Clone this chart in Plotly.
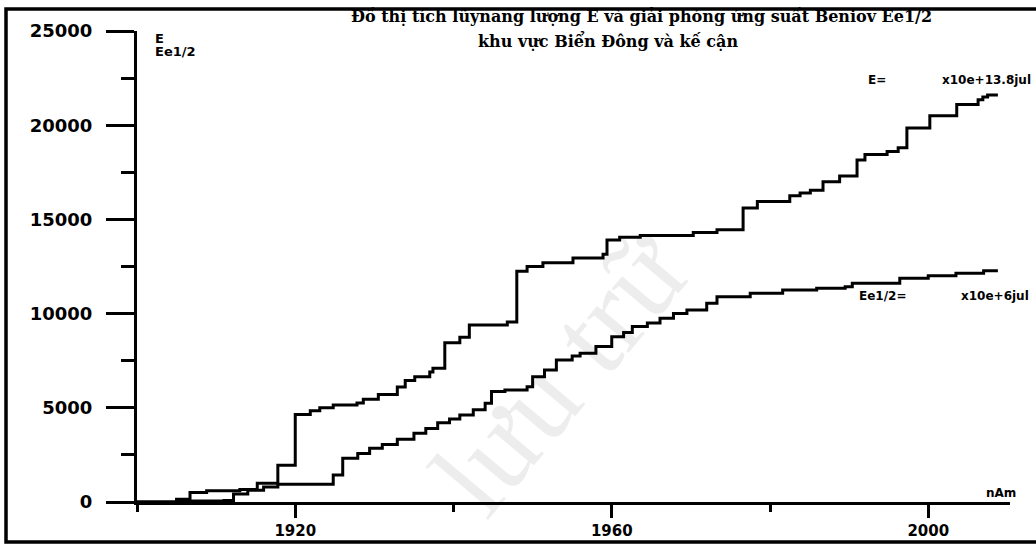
import plotly.graph_objects as go

# Cumulative energy E (units x10e+13.8 jul), step changes: year -> value
e_years = [1900, 1905.0, 1906.7, 1908.8, 1913.0, 1915.2, 1917.8, 1920.0, 1921.9, 1923.1,
           1924.8, 1927.8, 1928.6, 1930.5, 1932.9, 1933.9, 1935.1, 1937.0, 1937.4, 1938.9,
           1940.8, 1942.0, 1946.8, 1948.0, 1949.3, 1951.3, 1955.1, 1958.9, 1959.4, 1961.0,
           1963.6, 1970.3, 1973.3, 1976.6, 1978.4, 1982.5, 1983.8, 1985.1, 1986.7, 1988.8,
           1991.0, 1992.0, 1994.8, 1996.2, 1997.3, 2000.2, 2003.6, 2006.3, 2006.9, 2007.5,
           2008.8]
e_values = [0, 150, 510, 600, 670, 990, 1950, 4650, 4850, 5000,
            5150, 5250, 5450, 5700, 6100, 6450, 6650, 6900, 7100, 8450,
            8750, 9400, 9550, 12250, 12500, 12700, 12950, 13150, 13900, 14050,
            14150, 14300, 14450, 15600, 15950, 16250, 16400, 16550, 17000, 17300,
            18150, 18450, 18600, 18800, 19850, 20500, 21100, 21350, 21500, 21600,
            21600]

# Cumulative Benioff strain Ee1/2 (units x10e+6 jul)
s_years = [1900, 1905.0, 1911.0, 1912.2, 1914.0, 1916.0, 1917.8, 1924.8, 1926.0, 1927.9,
           1929.4, 1931.0, 1932.9, 1935.0, 1936.5, 1938.0, 1939.5, 1940.8, 1942.5, 1944.0,
           1944.8, 1946.5, 1949.3, 1950.0, 1951.5, 1953.0, 1955.0, 1956.0, 1958.0, 1960.0,
           1961.5, 1962.6, 1964.5, 1966.1, 1967.8, 1969.5, 1972.0, 1973.3, 1977.5, 1981.6,
           1985.9, 1989.5, 1990.4, 1996.4, 2000.0, 2003.5, 2007.0, 2008.8]
s_values = [0, 50, 80, 420, 620, 800, 940, 1430, 2320, 2580,
            2850, 3050, 3330, 3650, 3900, 4210, 4400, 4620, 4900, 5240,
            5860, 5950, 6120, 6650, 7000, 7540, 7750, 7890, 8250, 8770,
            9000, 9310, 9500, 9750, 10000, 10190, 10550, 10900, 11080, 11250,
            11340, 11430, 11610, 11870, 12010, 12140, 12280, 12280]

y_ticks = [0, 5000, 10000, 15000, 20000, 25000]
y_labels = ["0", "5000", "10000", "15000", "20000", "25000"]
x_ticks = [1920, 1960, 2000]
x_labels = ["1920", "1960", "2000"]

title_1 = "Đồ thị tích lũynang lượng E và giải phóng ứng suất Beniov Ee1/2"
title_2 = "khu vực Biển Đông và kế cận"

W, H = 1036, 544
L, R, T, B = 137, 1010, 31, 502          # plot area in pixels


def px(x):
    return (x - L) / (R - L)


def py(y):
    return (B - y) / (B - T)


fig = go.Figure()
for xs, ys in ((e_years, e_values), (s_years, s_values)):
    fig.add_trace(go.Scatter(x=xs, y=ys, mode="lines", line_shape="hv",
                             line=dict(color="black", width=3), showlegend=False,
                             hoverinfo="skip"))


def tick_font(size):
    return dict(family="DejaVu Sans", size=size, color="black", weight="bold")


fig.update_layout(
    width=W, height=H,
    margin=dict(l=L, r=W - R, t=T, b=H - B, pad=0),
    paper_bgcolor="white", plot_bgcolor="white",
    xaxis=dict(range=[1900, 1900 + (R - L) / 7.9125], showgrid=False, zeroline=False,
               automargin=False,
               showline=True, linecolor="black", linewidth=3,
               tickmode="array", tickvals=x_ticks, ticktext=x_labels,
               ticks="outside", ticklen=13, tickwidth=3, tickcolor="black",
               minor=dict(tickmode="linear", tick0=1900, dtick=20, ticks="outside",
                          ticklen=7, tickwidth=3, tickcolor="black"),
               tickfont=tick_font(15), ticklabelstandoff=0),
    yaxis=dict(range=[0, 25000], showgrid=False, zeroline=False,
               automargin=False,
               showline=True, linecolor="black", linewidth=3,
               tickmode="array", tickvals=y_ticks, ticktext=y_labels,
               ticks="outside", ticklen=28, tickwidth=3, tickcolor="black",
               minor=dict(tickmode="linear", tick0=0, dtick=2500, ticks="outside",
                          ticklen=13, tickwidth=3, tickcolor="black"),
               tickfont=tick_font(18), ticklabelstandoff=10),
)

# faint watermark; translucent so the curves stay black where they cross it
fig.add_annotation(text="lưu trữ", xref="paper", yref="paper", x=px(560), y=py(372),
                   xanchor="center", yanchor="middle", showarrow=False, textangle=-50,
                   font=dict(family="Liberation Serif", size=118, color="rgba(0,0,0,0.07)"))

# frame around the chart
fig.add_shape(type="rect", xref="paper", yref="paper",
              x0=px(6), x1=px(1050), y0=py(542), y1=py(9),
              line=dict(color="black", width=3.5))


def note(text, x, y, size=12, anchor="left", family="DejaVu Sans"):
    fig.add_annotation(text=text, xref="paper", yref="paper", x=px(x), y=py(y),
                       xanchor=anchor, yanchor="middle", showarrow=False,
                       font=dict(family=family, size=size, color="black", weight="bold"))


note(title_1, 641, 16, size=16, anchor="center", family="DejaVu Serif")
note(title_2, 608, 40, size=16, anchor="center", family="DejaVu Serif")
note("E", 153, 38, size=13)
note("Ee1/2", 153, 51, size=13)
note("E=", 866, 80, size=12)
note("x10e+13.8jul", 1033, 80, size=12, anchor="right")
note("Ee1/2=", 857, 296, size=12)
note("x10e+6jul", 1031, 296, size=12, anchor="right")
note("nAm", 984, 493, size=12)

fig.write_html("out.html")
